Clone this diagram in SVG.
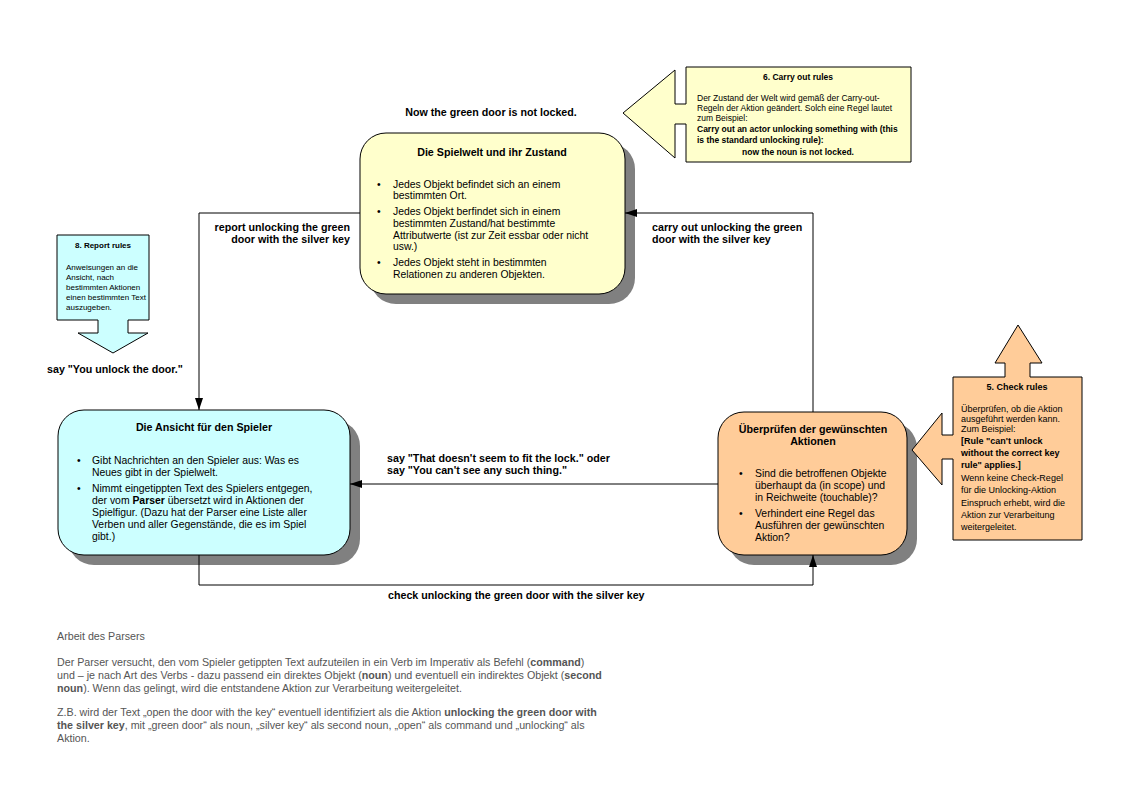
<svg xmlns="http://www.w3.org/2000/svg" width="1123" height="794" viewBox="0 0 1123 794">
<defs>
<marker id="ah" viewBox="0 0 12 8" refX="12" refY="4" markerWidth="12" markerHeight="8" markerUnits="userSpaceOnUse" orient="auto">
<path d="M0,0 L12,4 L0,8 Z" fill="#000"/>
</marker>
</defs>
<style>
text{font-family:"Liberation Sans",Arial,sans-serif;fill:#000}
.t{font-size:10.7px;font-weight:bold}
.b{font-size:10.4px}
.lb{font-size:10.7px;font-weight:bold}
.s{font-size:8.5px}
.sb{font-size:8.5px;font-weight:bold}
.r{font-size:8px}
.rb{font-size:8px;font-weight:bold}
.k{font-size:9px}
.kb{font-size:9px;font-weight:bold}
.c{text-anchor:middle}
.e{text-anchor:end}
.g{fill:#555;font-size:10.7px}
.shadow{fill:#808080}
.box{stroke:#000;stroke-width:1}
.con{fill:none;stroke:#000;stroke-width:1}
</style>
<rect width="1123" height="794" fill="#fff"/>

<text class="lb c" x="491" y="116">Now the green door is not locked.</text>
<text class="lb" x="47" y="373">say "You unlock the door."</text>

<g id="spielwelt">
<rect class="shadow" x="370" y="143" width="265" height="161" rx="26"/>
<rect class="box" x="360" y="133" width="265" height="161" rx="26" fill="#ffffcc"/>
<text class="t c" x="492" y="156">Die Spielwelt und ihr Zustand</text>
<text class="b" x="377" y="188">•</text>
<text class="b" x="393" y="188">Jedes Objekt befindet sich an einem</text>
<text class="b" x="393" y="199">bestimmten Ort.</text>
<text class="b" x="377" y="215">•</text>
<text class="b" x="393" y="215">Jedes Objekt berfindet sich in einem</text>
<text class="b" x="393" y="227">bestimmten Zustand/hat bestimmte</text>
<text class="b" x="393" y="239">Attributwerte (ist zur Zeit essbar oder nicht</text>
<text class="b" x="393" y="250">usw.)</text>
<text class="b" x="377" y="266">•</text>
<text class="b" x="393" y="266">Jedes Objekt steht in bestimmten</text>
<text class="b" x="393" y="278">Relationen zu anderen Objekten.</text>
</g>

<g id="ansicht">
<rect class="shadow" x="68" y="420" width="292" height="145" rx="26"/>
<rect class="box" x="58" y="410" width="292" height="145" rx="26" fill="#ccffff"/>
<text class="t c" x="204" y="431">Die Ansicht für den Spieler</text>
<text class="b" x="77" y="464">•</text>
<text class="b" x="92" y="464">Gibt Nachrichten an den Spieler aus: Was es</text>
<text class="b" x="92" y="476">Neues gibt in der Spielwelt.</text>
<text class="b" x="77" y="492">•</text>
<text class="b" x="92" y="492">Nimmt eingetippten Text des Spielers entgegen,</text>
<text class="b" x="92" y="504">der vom <tspan font-weight="bold">Parser</tspan> übersetzt wird in Aktionen der</text>
<text class="b" x="92" y="516">Spielfigur. (Dazu hat der Parser eine Liste aller</text>
<text class="b" x="92" y="528">Verben und aller Gegenstände, die es im Spiel</text>
<text class="b" x="92" y="540">gibt.)</text>
</g>

<g id="pruefen">
<rect class="shadow" x="728" y="422" width="189" height="143" rx="26"/>
<rect class="box" x="718" y="412" width="189" height="143" rx="26" fill="#ffcc99"/>
<text class="t c" x="813" y="433">Überprüfen der gewünschten</text>
<text class="t c" x="813" y="445">Aktionen</text>
<text class="b" x="739" y="477">•</text>
<text class="b" x="755" y="477">Sind die betroffenen Objekte</text>
<text class="b" x="755" y="489">überhaupt da (in scope) und</text>
<text class="b" x="755" y="501">in Reichweite (touchable)?</text>
<text class="b" x="739" y="517">•</text>
<text class="b" x="755" y="517">Verhindert eine Regel das</text>
<text class="b" x="755" y="529">Ausführen der gewünschten</text>
<text class="b" x="755" y="541">Aktion?</text>
</g>

<g id="carryout">
<path class="box" d="M686,67 H911 V162 H686 V124 H675 V158 L623,113 L675,70 V104 H686 Z" fill="#ffffcc"/>
<text class="sb c" x="798" y="80">6. Carry out rules</text>
<text class="s" x="697" y="101">Der Zustand der Welt wird gemäß der Carry-out-</text>
<text class="s" x="697" y="111">Regeln der Aktion geändert. Solch eine Regel lautet</text>
<text class="s" x="697" y="121">zum Beispiel:</text>
<text class="sb" x="697" y="132">Carry out an actor unlocking something with (this</text>
<text class="sb" x="697" y="143">is the standard unlocking rule):</text>
<text class="sb c" x="798" y="155">now the noun is not locked.</text>
</g>

<g id="report">
<path class="box" d="M57,235 H149 V320 H128 V333 H148 L113,353 L78,333 H98 V320 H57 Z" fill="#ccffff"/>
<text class="rb c" x="103" y="248">8. Report rules</text>
<text class="r" x="66" y="270">Anweisungen an die</text>
<text class="r" x="66" y="280">Ansicht, nach</text>
<text class="r" x="66" y="290">bestimmten Aktionen</text>
<text class="r" x="66" y="300">einen bestimmten Text</text>
<text class="r" x="66" y="310">auszugeben.</text>
</g>

<g id="check">
<path class="box" d="M953,377 H1005 V363 H995 L1018,325 L1042,363 H1030 V377 H1082 V540 H953 V459 H942 V485 L912,450 L942,413 V435 H953 Z" fill="#ffcc99"/>
<text class="kb c" x="1017" y="390">5. Check rules</text>
<text class="k" x="961" y="412">Überprüfen, ob die Aktion</text>
<text class="k" x="961" y="422">ausgeführt werden kann.</text>
<text class="k" x="961" y="432">Zum Beispiel:</text>
<text class="kb" x="961" y="444">[Rule "can't unlock</text>
<text class="kb" x="961" y="456">without the correct key</text>
<text class="kb" x="961" y="468">rule" applies.]</text>
<text class="k" x="961" y="481">Wenn keine Check-Regel</text>
<text class="k" x="961" y="493">für die Unlocking-Aktion</text>
<text class="k" x="961" y="506">Einspruch erhebt, wird die</text>
<text class="k" x="961" y="518">Aktion zur Verarbeitung</text>
<text class="k" x="961" y="530">weitergeleitet.</text>
</g>

<g id="connectors">
<path class="con" d="M360,213 H199 V410" marker-end="url(#ah)"/>
<path class="con" d="M813,412 V213 H625" marker-end="url(#ah)"/>
<path class="con" d="M718,484 H350" marker-end="url(#ah)"/>
<path class="con" d="M199,555 V585 H813 V555" marker-end="url(#ah)"/>
<text class="lb e" x="350" y="231">report unlocking the green</text>
<text class="lb e" x="350" y="243">door with the silver key</text>
<text class="lb" x="652" y="231">carry out unlocking the green</text>
<text class="lb" x="652" y="243">door with the silver key</text>
<text class="lb" x="387" y="462">say "That doesn't seem to fit the lock." oder</text>
<text class="lb" x="387" y="474">say "You can't see any such thing."</text>
<text class="lb" x="388" y="599">check unlocking the green door with the silver key</text>
</g>

<g id="parser">
<text class="g" x="57" y="640">Arbeit des Parsers</text>
<text class="g" x="57" y="666">Der Parser versucht, den vom Spieler getippten Text aufzuteilen in ein Verb im Imperativ als Befehl (<tspan font-weight="bold">command</tspan>)</text>
<text class="g" x="57" y="679">und – je nach Art des Verbs - dazu passend ein direktes Objekt (<tspan font-weight="bold">noun</tspan>) und eventuell ein indirektes Objekt (<tspan font-weight="bold">second</tspan></text>
<text class="g" x="57" y="692"><tspan font-weight="bold">noun</tspan>). Wenn das gelingt, wird die entstandene Aktion zur Verarbeitung weitergeleitet.</text>
<text class="g" x="57" y="716">Z.B. wird der Text „open the door with the key“ eventuell identifiziert als die Aktion <tspan font-weight="bold">unlocking the green door with</tspan></text>
<text class="g" x="57" y="729"><tspan font-weight="bold">the silver key</tspan>, mit „green door“ als noun, „silver key“ als second noun, „open“ als command und „unlocking“ als</text>
<text class="g" x="57" y="742">Aktion.</text>
</g>
</svg>
